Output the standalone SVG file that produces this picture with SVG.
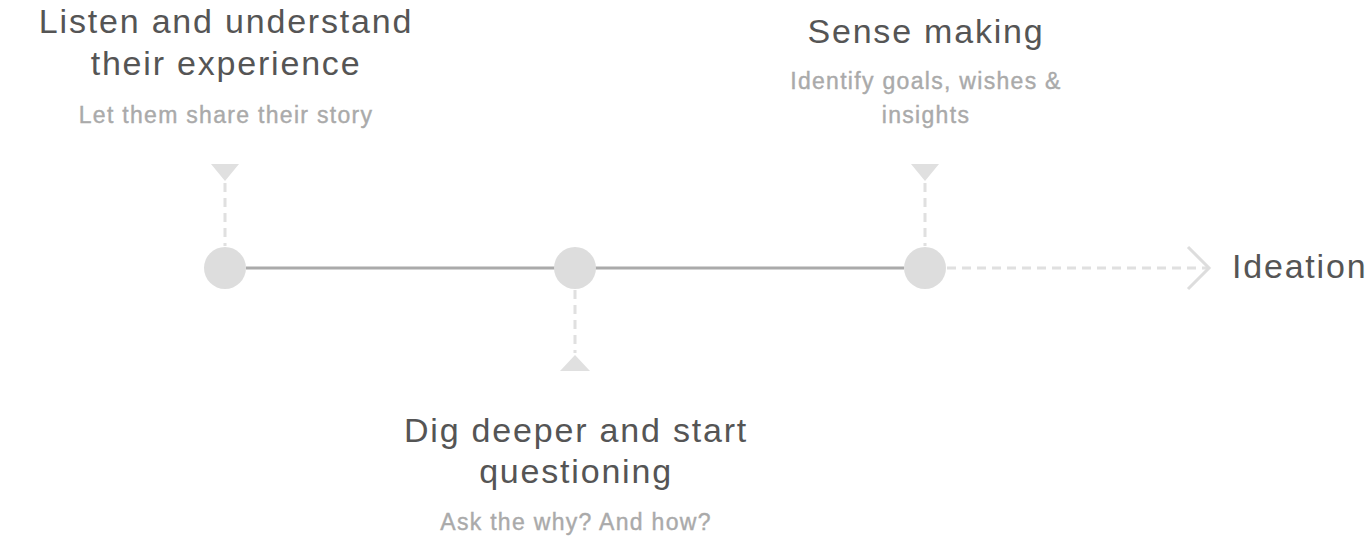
<svg xmlns="http://www.w3.org/2000/svg" width="1367" height="536" viewBox="0 0 1367 536">
<style>
.title{font-family:"Liberation Sans",Arial,sans-serif;font-size:34px;fill:#555;letter-spacing:1.8px}
.sub{font-family:"Liberation Sans",Arial,sans-serif;font-size:23px;fill:#aaa;stroke:#aaa;stroke-width:0.4;letter-spacing:1.3px}
.mid{text-anchor:middle}
.dot{fill:#ddd}
.dash{stroke:#e0e0e0;stroke-width:3;stroke-dasharray:9 6;fill:none}
.tri{fill:#e0e0e0}
</style>
<rect width="1367" height="536" fill="#fff"/>
<g id="connectors">
<line x1="246" y1="268" x2="904" y2="268" stroke="#aaa" stroke-width="3"/>
<line class="dash" x1="225" y1="183" x2="225" y2="246"/>
<polygon class="tri" points="211,164 239,164 225,181"/>
<line class="dash" x1="575" y1="290" x2="575" y2="353"/>
<polygon class="tri" points="560,371 590,371 575,355"/>
<line class="dash" x1="925" y1="183" x2="925" y2="246"/>
<polygon class="tri" points="911,164 939,164 925,181"/>
<line class="dash" x1="947" y1="268" x2="1208" y2="268"/>
<polyline points="1188,247 1209,268 1188,289" fill="none" stroke="#ddd" stroke-width="3"/>
</g>
<g id="node1">
<circle class="dot" cx="225" cy="268" r="21"/>
<text class="title mid" x="226" y="33">Listen and understand</text>
<text class="title mid" x="226" y="75">their experience</text>
<text class="sub mid" x="226" y="123">Let them share their story</text>
</g>
<g id="node2">
<circle class="dot" cx="575" cy="268" r="21"/>
<text class="title mid" x="576" y="442">Dig deeper and start</text>
<text class="title mid" x="576" y="483">questioning</text>
<text class="sub mid" x="576" y="530">Ask the why? And how?</text>
</g>
<g id="node3">
<circle class="dot" cx="925" cy="268" r="21"/>
<text class="title mid" x="926" y="43">Sense making</text>
<text class="sub mid" x="926" y="89">Identify goals, wishes &amp;</text>
<text class="sub mid" x="926" y="123">insights</text>
</g>
<g id="node4">
<text class="title" x="1232" y="278">Ideation</text>
</g>
</svg>
